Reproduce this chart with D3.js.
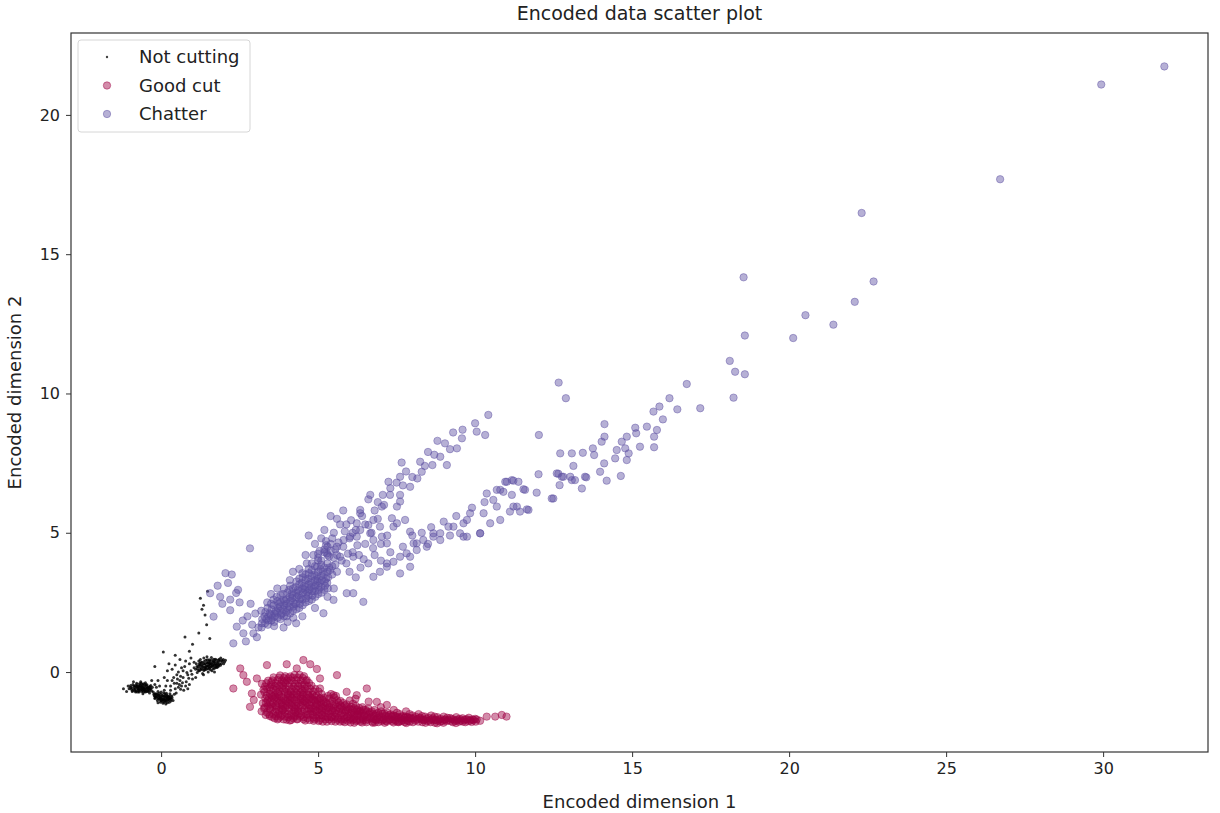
<!DOCTYPE html>
<html>
<head>
<meta charset="utf-8">
<script src="https://cdn.jsdelivr.net/npm/d3@7"></script>
<style>
  body { margin: 0; background: #fff; }
  text { font-family: "DejaVu Sans", sans-serif; fill: #222; }
</style>
</head>
<body>
<div id="chart"></div>
<script>
// data: [encoded dim 1, encoded dim 2]
var notCutting = [
  [-1.2,-0.6],[-1.05,-0.5],[-0.95,-0.62],[-0.9,-0.45],[-0.85,-0.55],[-0.8,-0.68],[-0.78,-0.4],[-0.72,-0.52],
  [-0.7,-0.6],[-0.66,-0.47],[-0.62,-0.7],[-0.6,-0.55],[-0.57,-0.42],[-0.55,-0.63],[-0.52,-0.5],[-0.5,-0.72],
  [-0.47,-0.58],[-0.45,-0.46],[-0.42,-0.66],[-0.4,-0.54],[-0.37,-0.75],[-0.35,-0.6],[-0.33,-0.48],[-0.3,-0.68],
  [-0.65,-0.35],[-0.75,-0.72],[-0.58,-0.78],[-0.88,-0.35],[-1.1,-0.7],[-0.5,-0.38],
  [-0.98,-0.55],[-0.92,-0.7],[-0.86,-0.62],[-0.82,-0.48],[-0.76,-0.58],[-0.74,-0.65],[-0.68,-0.55],[-0.64,-0.62],
  [-0.61,-0.45],[-0.59,-0.66],[-0.54,-0.56],[-0.53,-0.44],[-0.49,-0.64],[-0.46,-0.52],[-0.43,-0.6],[-0.41,-0.7],
  [-0.38,-0.56],[-0.36,-0.66],[-0.69,-0.42],[-0.63,-0.52],[-0.56,-0.72],[-0.79,-0.52],[-0.84,-0.68],[-0.71,-0.68],
  [-1.02,-0.6],[-0.97,-0.48],[-0.94,-0.56],[-0.91,-0.66],[-0.87,-0.5],[-0.83,-0.6],[-0.81,-0.72],[-0.77,-0.46],
  [-0.73,-0.6],[-0.69,-0.5],[-0.67,-0.64],[-0.64,-0.4],[-0.6,-0.62],[-0.58,-0.5],[-0.55,-0.58],[-0.51,-0.68],
  [-0.48,-0.46],[-0.44,-0.56],[-0.4,-0.62],[-0.36,-0.52],[-0.32,-0.6],[-0.28,-0.55],[-0.76,-0.52],[-0.7,-0.72],
  [-0.62,-0.56],[-0.53,-0.62],[-0.46,-0.7],
  [-0.25,-0.72],[-0.22,-0.85],[-0.2,-0.95],[-0.16,-0.78],[-0.14,-0.9],[-0.12,-1.02],[-0.1,-0.7],[-0.07,-0.84],
  [-0.05,-0.96],[-0.02,-1.08],[0.0,-0.8],[0.03,-0.92],[0.05,-1.0],[0.08,-0.74],[0.1,-0.88],[0.12,-1.05],
  [0.15,-0.95],[0.18,-0.82],[0.2,-1.1],[0.22,-0.9],[0.25,-1.0],[0.28,-0.78],[0.3,-0.94],[0.34,-0.86],
  [0.38,-1.02],[0.1,-0.65],[-0.1,-1.1],[0.15,-1.15],[0.42,-0.8],
  [-0.18,-0.88],[-0.13,-0.8],[-0.08,-0.92],[-0.04,-1.0],[-0.01,-0.88],[0.02,-1.02],[0.06,-0.86],[0.09,-0.96],
  [0.11,-1.0],[0.13,-0.84],[0.16,-1.05],[0.19,-0.92],[0.21,-1.0],[0.24,-0.88],[0.27,-0.96],[0.31,-1.04],
  [0.06,-1.12],[-0.06,-0.76],[0.17,-0.76],[0.26,-1.08],[-0.2,-0.78],[0.0,-0.96],
  [-0.23,-0.8],[-0.19,-0.92],[-0.15,-0.86],[-0.11,-0.96],[-0.09,-0.82],[-0.03,-0.94],[0.01,-1.04],[0.04,-0.84],
  [0.07,-0.98],[0.09,-1.08],[0.14,-0.9],[0.17,-1.0],[0.2,-0.86],[0.23,-0.96],[0.26,-0.92],[0.29,-0.86],
  [0.32,-0.98],[0.35,-0.92],[0.0,-0.72],[-0.05,-0.88],[0.12,-0.78],
  [0.45,-0.6],[0.5,-0.4],[0.55,-0.55],[0.6,-0.3],[0.65,-0.5],[0.7,-0.2],[0.72,-0.65],[0.8,-0.35],
  [0.85,-0.1],[0.9,-0.45],[0.95,0.05],[1.0,-0.25],[1.05,0.15],[0.3,-0.5],[0.2,-0.3],[0.4,-0.2],
  [0.55,0.0],[0.75,0.2],[0.35,0.1],[0.1,-0.2],[-0.1,-0.3],[0.6,0.45],[0.25,0.3],[0.9,0.3],
  [0.48,-0.75],[0.62,-0.62],[0.78,-0.5],[0.88,-0.22],[0.98,-0.08],[0.68,-0.38],[0.52,-0.25],[-0.2,-0.45],
  [0.5,-0.1],[0.62,-0.15],[0.7,0.05],[0.82,-0.02],[0.42,-0.4],[0.58,-0.45],[0.35,-0.3],[0.15,-0.5],
  [-0.05,-0.5],[0.78,0.4],[0.95,0.5],[1.05,0.35],[0.3,-0.65],[0.85,-0.6],[1.1,-0.2],[0.65,0.15],
  [-0.3,-0.3],[-0.15,-0.55],[0.2,0.05],[0.45,0.25],
  [1.1,0.1],[1.12,0.3],[1.15,-0.02],[1.18,0.2],[1.2,0.4],[1.22,0.05],[1.25,0.25],[1.28,0.12],
  [1.3,0.35],[1.32,-0.05],[1.35,0.18],[1.38,0.28],[1.4,0.08],[1.42,0.42],[1.45,0.22],[1.48,0.32],
  [1.5,0.12],[1.52,0.26],[1.55,0.4],[1.58,0.18],[1.6,0.3],[1.62,0.05],[1.65,0.22],[1.68,0.36],
  [1.7,0.14],[1.72,0.46],[1.75,0.26],[1.78,0.34],[1.8,0.18],[1.83,0.42],[1.86,0.3],[1.9,0.5],
  [1.25,0.45],[1.36,0.5],[1.46,0.55],[1.6,0.52],[1.35,-0.1],[1.5,0.0],[1.7,0.0],[1.95,0.38],
  [1.16,0.12],[1.21,0.26],[1.24,0.16],[1.27,0.34],[1.31,0.2],[1.33,0.1],[1.37,0.38],[1.39,0.16],
  [1.41,0.3],[1.44,0.1],[1.47,0.44],[1.49,0.22],[1.51,0.36],[1.54,0.14],[1.56,0.3],[1.59,0.42],
  [1.61,0.2],[1.63,0.34],[1.66,0.12],[1.67,0.46],[1.69,0.28],[1.71,0.38],[1.74,0.18],[1.76,0.44],
  [1.79,0.24],[1.81,0.36],[1.84,0.22],[1.88,0.4],[1.92,0.3],[1.98,0.45],[2.02,0.36],[1.57,0.08],
  [1.14,0.2],[1.19,0.06],[1.23,0.32],[1.26,0.08],[1.29,0.24],[1.34,0.3],[1.36,0.06],[1.43,0.2],
  [1.46,0.34],[1.52,0.18],[1.53,0.44],[1.57,0.24],[1.64,0.26],[1.66,0.4],[1.73,0.3],[1.77,0.16],
  [1.82,0.28],[1.85,0.46],[1.89,0.24],[1.94,0.42],[1.99,0.3],[2.05,0.42],[1.42,0.14],[1.55,0.32],[1.7,0.22],
  [0.07,0.72],[0.76,1.26],[1.0,1.0],[0.9,0.75],[1.2,1.4],[1.45,1.7],[1.55,1.2],[1.3,2.25],
  [1.4,2.05],[1.35,2.4],[1.25,2.65],[1.48,2.9],[0.45,0.6],[-0.2,0.2]
];

var goodCut = [
  [2.3,-0.59],[2.52,0.13],[2.83,-1.25],[2.89,-0.77],[2.62,-0.11],[2.73,-0.35],[3.05,-0.23],[2.95,-1.0],
  [3.37,0.25],[4.0,0.28],[4.32,0.13],[4.53,0.43],[4.75,0.28],[4.96,0.11],[5.6,-0.11],[5.06,-0.23],
  [4.64,-0.29],[6.55,-0.59],[5.91,-0.71],[6.23,-0.83],[6.87,-1.07],[7.19,-1.18],[5.06,-0.59],[5.49,-0.83],
  [3.21,-0.42],[3.18,-0.81],[3.24,-1.12],[3.2,-1.41],[3.26,-0.63],
  [3.41,-0.31],[3.38,-0.6],[3.43,-0.92],[3.4,-1.21],[3.44,-1.52],[3.39,-1.02],
  [3.58,-0.19],[3.62,-0.5],[3.6,-0.83],[3.57,-1.1],[3.63,-1.42],[3.61,-1.66],[3.59,-0.96],
  [3.79,-0.12],[3.82,-0.41],[3.78,-0.69],[3.81,-1.02],[3.83,-1.31],[3.8,-1.6],[3.77,-0.86],[3.84,-1.17],
  [4.01,-0.3],[3.98,-0.62],[4.03,-0.91],[4.0,-1.19],[4.02,-1.51],[3.99,-1.71],[4.04,-0.76],[3.97,-1.04],
  [4.19,-0.2],[4.22,-0.52],[4.2,-0.81],[4.18,-1.12],[4.23,-1.39],[4.21,-1.66],[4.17,-0.94],[4.24,-1.26],
  [4.41,-0.1],[4.38,-0.41],[4.43,-0.72],[4.4,-1.01],[4.37,-1.31],[4.42,-1.6],[4.44,-0.86],[4.39,-1.49],
  [4.61,-0.31],[4.58,-0.6],[4.62,-0.92],[4.6,-1.2],[4.63,-1.52],[4.59,-1.74],[4.57,-1.06],
  [4.79,-0.49],[4.82,-0.81],[4.8,-1.1],[4.78,-1.41],[4.83,-1.64],[4.81,-0.96],[4.77,-1.3],
  [5.01,-0.7],[4.98,-1.01],[5.03,-1.3],[5.0,-1.56],[5.02,-1.76],[4.97,-1.16],
  [5.19,-0.92],[5.22,-1.21],[5.2,-1.46],[5.23,-1.7],[5.18,-1.06],
  [5.41,-0.79],[5.38,-1.12],[5.42,-1.36],[5.4,-1.61],[5.43,-1.76],
  [5.6,-1.01],[5.62,-1.26],[5.58,-1.5],[5.61,-1.71],[5.57,-0.86],
  [5.8,-1.11],[5.79,-1.36],[5.82,-1.56],[5.78,-1.76],
  [6.01,-1.02],[5.99,-1.31],[6.02,-1.51],[6.0,-1.7],[6.03,-1.81],
  [6.2,-1.21],[6.22,-1.41],[6.18,-1.6],[6.21,-1.76],[6.19,-0.96],
  [6.41,-1.26],[6.39,-1.46],[6.42,-1.66],[6.4,-1.81],
  [6.6,-1.31],[6.62,-1.51],[6.58,-1.7],[6.61,-1.06],
  [6.8,-1.36],[6.79,-1.56],[6.82,-1.71],[6.81,-1.81],
  [7.01,-1.41],[6.99,-1.61],[7.02,-1.76],[7.0,-1.26],
  [7.2,-1.46],[7.22,-1.6],[7.19,-1.78],
  [7.41,-1.36],[7.39,-1.56],[7.42,-1.7],[7.4,-1.81],
  [7.6,-1.51],[7.62,-1.66],[7.58,-1.78],
  [7.8,-1.41],[7.79,-1.6],[7.82,-1.72],[7.81,-1.83],
  [8.01,-1.56],[7.99,-1.68],[8.02,-1.8],
  [8.2,-1.51],[8.22,-1.66],[8.19,-1.78],
  [8.41,-1.6],[8.39,-1.72],[8.42,-1.82],
  [8.6,-1.56],[8.62,-1.7],[8.58,-1.8],
  [8.8,-1.62],[8.81,-1.75],[8.79,-1.84],
  [9.0,-1.6],[9.02,-1.72],[8.99,-1.82],
  [9.2,-1.65],[9.21,-1.76],
  [9.4,-1.62],[9.41,-1.74],[9.39,-1.83],
  [9.6,-1.66],[9.61,-1.78],
  [9.8,-1.64],[9.79,-1.76],
  [10.0,-1.68],[10.02,-1.78],[10.16,-1.75],
  [10.37,-1.6],[10.64,-1.6],[10.85,-1.54],[11.0,-1.6],
  // second pass over the dense body
  [3.31,-0.52],[3.29,-0.71],[3.32,-0.94],[3.3,-1.27],[3.33,-1.54],[3.28,-1.31],
  [3.51,-0.36],[3.49,-0.66],[3.52,-0.84],[3.5,-1.16],[3.48,-1.34],[3.53,-1.61],[3.5,-0.46],
  [3.71,-0.29],[3.69,-0.56],[3.72,-0.74],[3.7,-1.06],[3.68,-1.24],[3.73,-1.51],[3.71,-1.7],[3.69,-0.94],
  [3.91,-0.21],[3.89,-0.49],[3.92,-0.66],[3.9,-0.94],[3.88,-1.21],[3.93,-1.44],[3.9,-1.7],[3.91,-0.36],[3.89,-1.34],
  [4.11,-0.16],[4.09,-0.41],[4.12,-0.69],[4.1,-1.01],[4.08,-1.29],[4.13,-1.56],[4.1,-1.74],[4.11,-0.86],[4.09,-1.14],
  [4.31,-0.29],[4.29,-0.61],[4.32,-0.89],[4.3,-1.21],[4.28,-1.44],[4.33,-1.7],[4.3,-0.76],[4.31,-1.06],[4.29,-1.56],
  [4.51,-0.21],[4.49,-0.49],[4.52,-0.81],[4.5,-1.09],[4.48,-1.41],[4.53,-1.69],[4.5,-0.66],[4.51,-0.96],[4.49,-1.26],
  [4.71,-0.39],[4.69,-0.71],[4.72,-0.99],[4.7,-1.31],[4.68,-1.54],[4.73,-1.72],[4.7,-0.84],[4.71,-1.16],
  [4.91,-0.61],[4.89,-0.89],[4.92,-1.21],[4.9,-1.44],[4.88,-1.69],[4.91,-1.04],[4.9,-1.36],
  [5.11,-0.79],[5.09,-1.11],[5.12,-1.39],[5.1,-1.66],[5.08,-0.94],[5.11,-1.26],[5.1,-1.54],
  [5.31,-0.86],[5.29,-1.14],[5.32,-1.41],[5.3,-1.61],[5.28,-1.78],[5.31,-1.29],
  [5.51,-0.91],[5.49,-1.19],[5.52,-1.46],[5.5,-1.68],[5.49,-1.31],
  [5.71,-1.04],[5.69,-1.31],[5.72,-1.54],[5.7,-1.78],[5.71,-1.19],
  [5.91,-1.16],[5.89,-1.39],[5.92,-1.62],[5.9,-1.26],
  [6.11,-1.14],[6.09,-1.36],[6.12,-1.56],[6.1,-1.72],
  [6.31,-1.29],[6.29,-1.51],[6.32,-1.71],[6.3,-1.41],
  [6.51,-1.36],[6.49,-1.56],[6.52,-1.74],
  [6.71,-1.41],[6.69,-1.61],[6.72,-1.78],
  [6.91,-1.46],[6.89,-1.64],[6.92,-1.8],
  [7.11,-1.49],[7.09,-1.68],[7.12,-1.82],
  [7.31,-1.52],[7.29,-1.7],
  [7.51,-1.46],[7.49,-1.62],[7.52,-1.78],
  [7.71,-1.58],[7.69,-1.72],
  [7.91,-1.51],[7.89,-1.66],[7.92,-1.78],
  [8.11,-1.6],[8.09,-1.74],
  [8.31,-1.58],[8.29,-1.7],[8.32,-1.8],
  [8.51,-1.64],[8.49,-1.76],
  [8.71,-1.6],[8.69,-1.72],[8.72,-1.82],
  [8.91,-1.68],[8.89,-1.78],
  [9.11,-1.64],[9.09,-1.76],
  [9.31,-1.7],[9.29,-1.8],
  [9.51,-1.68],[9.49,-1.78],
  [9.71,-1.7],[9.69,-1.8],
  [9.91,-1.7],[9.89,-1.79],
  // third pass
  [3.35,-0.4],[3.36,-0.85],[3.34,-1.1],[3.37,-1.45],[3.45,-0.55],[3.46,-0.78],[3.47,-1.08],[3.45,-1.3],[3.46,-1.58],
  [3.55,-0.3],[3.56,-0.6],[3.54,-0.9],[3.55,-1.25],[3.57,-1.5],
  [3.65,-0.4],[3.66,-0.65],[3.64,-0.9],[3.65,-1.2],[3.67,-1.35],[3.66,-1.58],
  [3.75,-0.2],[3.76,-0.48],[3.74,-0.8],[3.75,-1.12],[3.76,-1.4],[3.74,-1.66],
  [3.85,-0.3],[3.86,-0.58],[3.84,-0.9],[3.85,-1.1],[3.86,-1.38],[3.84,-1.55],
  [3.95,-0.15],[3.96,-0.4],[3.94,-0.72],[3.95,-1.0],[3.96,-1.28],[3.94,-1.6],
  [4.05,-0.22],[4.06,-0.5],[4.04,-0.82],[4.05,-1.1],[4.06,-1.4],[4.04,-1.62],
  [4.15,-0.3],[4.16,-0.6],[4.14,-0.9],[4.15,-1.2],[4.16,-1.48],[4.14,-1.72],
  [4.25,-0.1],[4.26,-0.42],[4.24,-0.7],[4.25,-1.0],[4.26,-1.32],[4.24,-1.6],
  [4.35,-0.2],[4.36,-0.5],[4.34,-0.8],[4.35,-1.12],[4.36,-1.4],[4.34,-1.68],
  [4.45,-0.3],[4.46,-0.6],[4.44,-0.95],[4.45,-1.2],[4.46,-1.55],
  [4.55,-0.15],[4.56,-0.45],[4.54,-0.75],[4.55,-1.05],[4.56,-1.35],[4.54,-1.62],
  [4.65,-0.5],[4.66,-0.8],[4.64,-1.1],[4.65,-1.4],[4.66,-1.66],
  [4.75,-0.6],[4.76,-0.9],[4.74,-1.2],[4.75,-1.5],
  [4.85,-0.7],[4.86,-1.0],[4.84,-1.3],[4.85,-1.55],[4.86,-1.75],
  [4.95,-0.85],[4.96,-1.15],[4.94,-1.4],[4.95,-1.65],
  [5.05,-0.95],[5.06,-1.2],[5.04,-1.45],[5.05,-1.72],
  [5.15,-1.0],[5.16,-1.3],[5.14,-1.55],[5.15,-1.78],
  [5.25,-1.1],[5.26,-1.35],[5.24,-1.6],
  [5.35,-0.95],[5.36,-1.25],[5.34,-1.5],[5.35,-1.7],
  [5.45,-1.05],[5.46,-1.4],[5.44,-1.62],
  [5.55,-1.15],[5.56,-1.38],[5.54,-1.6],[5.55,-1.78],
  [5.65,-1.1],[5.66,-1.42],[5.64,-1.65],
  [5.75,-1.25],[5.76,-1.48],[5.74,-1.7],
  [5.85,-1.2],[5.86,-1.45],[5.84,-1.68],[5.85,-1.8],
  [5.95,-1.35],[5.96,-1.58],[5.94,-1.75],
  [6.05,-1.25],[6.06,-1.45],[6.04,-1.65],
  [6.15,-1.3],[6.16,-1.5],[6.14,-1.68],[6.15,-1.82],
  [6.25,-1.35],[6.26,-1.55],[6.24,-1.72],
  [6.35,-1.4],[6.36,-1.6],[6.34,-1.78],
  [6.45,-1.35],[6.46,-1.55],[6.44,-1.72],
  [6.55,-1.42],[6.56,-1.62],[6.54,-1.8],
  [6.65,-1.45],[6.66,-1.66],
  [6.75,-1.5],[6.76,-1.68],[6.74,-1.82],
  [6.85,-1.5],[6.86,-1.72],
  [6.95,-1.55],[6.96,-1.7],
  [7.05,-1.5],[7.06,-1.72],
  [7.15,-1.58],[7.16,-1.75],
  [7.25,-1.55],[7.26,-1.72],
  [7.35,-1.6],[7.36,-1.76],
  [7.45,-1.58],[7.46,-1.74],
  [7.55,-1.62],[7.56,-1.8],
  [7.65,-1.6],[7.66,-1.76],
  [7.75,-1.64],[7.76,-1.8],
  [7.85,-1.62],[7.86,-1.76],
  [7.95,-1.64],[8.05,-1.66],[8.15,-1.7],[8.25,-1.64],[8.35,-1.72],[8.45,-1.68],[8.55,-1.74],[8.65,-1.66],
  [8.75,-1.72],[8.85,-1.7],[8.95,-1.76],[9.05,-1.7],[9.15,-1.72],[9.25,-1.68],[9.35,-1.76],[9.45,-1.7],
  [9.55,-1.74],[9.65,-1.72],[9.75,-1.7],[9.85,-1.74],[9.95,-1.72],[10.05,-1.7]
];

var chatter = [
  [1.56,2.83],[1.88,2.7],[1.67,1.99],[2.2,2.22],[2.41,1.63],[2.3,1.03],[2.62,1.39],[2.94,1.39],
  [2.83,4.44],[2.05,3.55],[2.25,3.5],[2.5,2.5],[2.75,2.0],[2.6,1.85],[2.9,1.7],[3.0,2.1],
  [2.85,2.45],[3.1,1.6],[2.45,2.95],[2.2,2.6],[1.95,2.45],[2.7,1.1],[3.05,1.25],[1.8,3.1],
  [2.13,3.2],[2.39,2.84],
  [3.2,1.6],[3.22,1.9],[3.19,2.2],[3.21,1.75],
  [3.4,1.7],[3.41,2.0],[3.39,2.3],[3.42,1.85],[3.38,2.5],
  [3.6,1.8],[3.61,2.1],[3.59,2.4],[3.62,2.0],[3.58,2.6],[3.6,1.65],
  [3.8,1.9],[3.79,2.2],[3.81,2.5],[3.8,2.75],[3.82,2.05],[3.78,2.35],
  [4.0,2.0],[4.01,2.3],[3.99,2.6],[4.02,2.85],[3.98,2.15],[4.0,2.45],[4.03,1.8],
  [4.2,2.2],[4.21,2.5],[4.19,2.75],[4.2,3.0],[4.22,2.35],[4.18,2.65],[4.21,1.95],
  [4.4,2.3],[4.41,2.6],[4.39,2.9],[4.4,3.15],[4.42,2.45],[4.38,2.75],[4.4,3.35],
  [4.6,2.5],[4.61,2.8],[4.59,3.05],[4.6,3.3],[4.62,2.65],[4.58,2.95],[4.6,3.5],
  [4.8,2.6],[4.81,2.9],[4.79,3.2],[4.8,3.45],[4.82,2.75],[4.78,3.05],[4.8,3.65],
  [5.0,2.8],[5.01,3.1],[4.99,3.35],[5.0,3.6],[5.02,2.95],[4.98,3.25],
  [5.2,2.95],[5.21,3.25],[5.19,3.5],[5.2,3.75],[5.22,3.1],
  [3.7,3.0],[4.1,3.3],[3.5,2.8],[4.9,2.3],[5.3,2.7],[4.5,2.0],[5.5,3.0],[3.9,1.6],[4.3,1.75],
  // second pass over the dense core
  [3.31,1.75],[3.29,2.0],[3.32,2.15],
  [3.51,1.85],[3.49,2.05],[3.52,2.25],[3.5,2.45],
  [3.71,1.95],[3.69,2.15],[3.72,2.3],[3.7,2.55],[3.68,2.7],
  [3.91,2.0],[3.89,2.25],[3.92,2.4],[3.9,2.6],[3.88,2.8],[3.91,3.0],
  [4.11,2.1],[4.09,2.35],[4.12,2.55],[4.1,2.7],[4.08,2.95],[4.11,3.1],
  [4.31,2.25],[4.29,2.45],[4.32,2.7],[4.3,2.85],[4.28,3.05],[4.31,3.25],
  [4.51,2.4],[4.49,2.6],[4.52,2.85],[4.5,3.0],[4.48,3.2],[4.51,3.4],
  [4.71,2.55],[4.69,2.75],[4.72,2.95],[4.7,3.15],[4.68,3.35],[4.71,3.55],
  [4.91,2.7],[4.89,2.9],[4.92,3.1],[4.9,3.3],[4.88,3.5],
  [5.11,2.85],[5.09,3.05],[5.12,3.3],[5.1,3.45],[5.08,3.7],
  [5.31,3.0],[5.29,3.2],[5.32,3.4],[5.3,3.6],
  // third pass
  [3.35,1.9],[3.45,2.1],[3.55,1.95],[3.65,2.2],[3.75,2.45],[3.85,2.1],[3.95,2.55],[4.05,2.25],
  [4.15,2.8],[4.25,2.45],[4.35,2.95],[4.45,2.65],[4.55,3.1],[4.65,2.85],[4.75,3.25],[4.85,3.0],
  [4.95,3.45],[5.05,3.2],[5.15,3.6],[5.25,3.35],[5.35,3.75],[5.45,3.5],[5.55,3.85],
  [4.9,3.8],[5.0,4.1],[5.1,4.0],[5.2,4.4],[5.3,4.2],[5.4,4.35],[5.1,3.85],[5.3,4.5],
  [5.5,4.1],[5.6,4.5],[5.45,4.8],[5.25,4.55],[5.0,4.25],[4.7,3.7],[4.5,3.55],
  [5.0,4.0],[5.2,4.3],[5.4,4.6],[5.1,4.8],[5.6,4.2],[5.8,4.5],[5.5,5.0],[5.7,5.3],
  [5.3,3.9],[5.9,3.9],[6.1,4.3],[6.0,4.8],[6.2,5.1],[6.4,5.6],[6.3,4.2],[6.5,4.6],
  [6.6,3.9],[6.8,4.2],[4.8,3.9],[4.6,4.2],[4.4,3.7],[4.2,3.6],[5.6,3.6],[6.0,3.6],
  [6.2,3.4],[6.7,5.0],[6.9,5.5],[7.0,4.6],[7.2,4.9],[5.2,5.1],[4.9,4.6],[4.7,4.9],
  [5.4,5.6],[5.8,5.8],[6.6,6.2],
  [5.45,3.8],[5.75,4.0],[5.55,4.4],[5.95,4.25],[5.35,4.15],[5.65,4.65],[6.25,4.55],[6.45,4.05],
  [5.85,5.05],[6.05,5.45],[5.25,4.7],[6.35,3.75],[6.75,4.45],[5.05,4.35],[4.85,4.2],[5.6,5.5],
  [6.44,2.52],[5.91,2.83],[6.12,2.83],[5.49,2.59],[5.17,2.11],
  [10.42,9.23],[10.0,8.93],[10.05,8.63],[10.32,8.51],[9.58,8.39],[9.04,8.21],[9.42,8.03],[8.89,7.73],
  [9.1,7.43],[8.64,7.43],[8.25,7.55],[7.66,7.52],[8.3,7.19],[8.16,6.95],[7.93,6.65],[7.61,7.01],
  [7.24,6.83],[7.06,6.36],[6.66,6.36],[7.29,6.36],[7.61,6.36],[7.03,5.94],[7.51,5.94],[6.34,5.7],
  [6.76,5.46],[7.35,5.52],[7.77,5.46],[6.34,5.1],[6.02,4.86],[6.66,4.98],[7.03,4.86],[7.93,5.04],
  [7.4,5.22],[6.34,5.82],[7.61,6.12],[6.23,5.34],[6.6,5.28],[6.97,5.22],[7.51,5.34],[5.81,4.74],
  [6.23,4.86],[6.76,4.74],[7.19,4.62],[5.28,4.26],[5.7,4.14],[6.12,4.14],[4.64,3.9],[4.96,3.78],
  [5.38,3.66],[8.8,8.3],[9.3,8.6],[8.5,7.9],
  [6.5,5.3],[6.8,5.8],[7.1,6.0],[7.3,6.6],[7.5,6.8],[7.8,7.2],[8.0,7.0],[8.4,7.4],
  [8.7,7.8],[9.2,8.0],[9.6,8.7],[6.9,6.1],[7.7,6.7],[6.1,5.0],[5.9,5.3],
  [7.93,4.14],[7.19,3.9],[7.61,3.54],[7.93,3.78],[8.46,4.5],[8.89,4.74],[8.67,4.98],[8.14,4.62],
  [9.31,5.22],[9.63,4.86],[9.74,5.46],[10.16,4.98],[10.27,5.7],[10.69,5.94],[10.69,6.54],
  [7.0,4.0],[7.3,4.3],[7.7,4.5],[8.0,4.9],[8.3,5.0],[8.6,5.2],[9.0,5.4],[9.4,5.6],
  [9.9,5.9],[10.3,6.1],[8.5,4.6],[9.2,4.9],
  [10.37,6.41],[10.58,6.18],[10.8,6.54],[11.17,6.36],[10.96,6.83],[11.17,6.89],[11.38,6.83],[11.59,6.54],
  [12.02,7.1],[12.49,6.23],[12.65,7.12],[12.76,7.01],[13.03,7.01],[13.18,6.89],[13.5,7.01],[13.4,6.59],
  [11.43,5.76],[11.7,5.82],[11.22,5.94],[10.8,5.46],[10.48,5.34],[10.16,4.98],[9.84,5.7],[9.63,5.34],
  [9.52,4.98],[9.74,4.86],[9.15,5.22],[8.89,4.98],[8.67,4.86],[8.35,4.74],[8.04,4.62],[8.14,4.38],
  [7.82,4.26],[7.61,4.14],[7.4,3.96],[7.19,3.78],[6.97,3.6],[6.76,3.42],
  [12.03,8.51],[12.66,10.39],[12.89,9.83],[12.71,7.85],[13.08,7.85],[13.43,7.87],[13.75,8.03],[13.79,7.79],
  [13.13,7.4],[14.11,7.49],[13.98,7.19],[14.19,6.87],[14.64,7.04],[13.54,6.99],[12.6,7.13],[12.81,7.01],
  [13.08,6.89],[12.69,6.71],[12.44,6.23],[11.96,6.44],[11.54,6.56],[11.01,6.83],[11.22,6.87],[10.9,6.47],
  [11.33,5.94],[11.65,5.84],[11.11,5.76],
  [14.12,8.9],[15.1,8.77],[15.47,8.81],[15.79,8.69],[15.13,8.57],[14.83,8.45],[15.7,8.45],[14.12,8.45],
  [14.03,8.27],[14.67,8.27],[14.78,8.03],[14.51,7.97],[15.25,8.09],[15.7,8.07],[14.89,7.85],[14.46,7.67],
  [14.83,7.61],[15.68,9.35],[15.87,9.53],[15.98,9.07],[16.19,9.83],[16.44,9.43],[16.74,10.34],[17.17,9.47],
  [18.55,14.17],[22.31,16.48],[22.69,14.02],[22.09,13.29],[20.52,12.81],[21.41,12.47],[20.13,11.99],[18.59,12.08],
  [18.11,11.17],[18.28,10.78],[18.59,10.69],[18.23,9.85],[31.95,21.74],[29.94,21.09],[26.72,17.69]
];

var xTicks = [0, 5, 10, 15, 20, 25, 30];
var yTicks = [0, 5, 10, 15, 20];
var seriesNames = ["Not cutting", "Good cut", "Chatter"];
var seriesColors = ["#000000", "#9e0142", "#5e4fa2"];

var W = 1220, H = 813;
var plot = {left: 71, right: 1208, top: 33, bottom: 752};

var svg = d3.select("#chart").append("svg")
  .attr("width", W)
  .attr("height", H);

var x = d3.scaleLinear().domain([-2.87, 33.34]).range([plot.left, plot.right]);
var y = d3.scaleLinear().domain([-2.87, 22.94]).range([plot.bottom, plot.top]);

// points
var groups = [notCutting, goodCut, chatter];
groups.forEach(function(data, i) {
  var g = svg.append("g").attr("class", "series-" + i);
  g.selectAll("circle")
    .data(data)
    .enter()
    .append("circle")
      .attr("cx", function(d) { return x(d[0]); })
      .attr("cy", function(d) { return y(d[1]); })
      .attr("r", i == 0 ? 1.5 : 3.7)
      .style("fill", seriesColors[i])
      .style("fill-opacity", i == 0 ? 0.8 : 0.45)
      .style("stroke", i == 0 ? "none" : seriesColors[i])
      .style("stroke-opacity", 0.45)
      .style("stroke-width", 1);
});

// axes
var xAxis = svg.append("g")
  .attr("transform", "translate(0," + plot.bottom + ")")
  .call(d3.axisBottom(x).tickValues(xTicks).tickSize(5).tickPadding(6).tickFormat(d3.format("d")));
var yAxis = svg.append("g")
  .attr("transform", "translate(" + plot.left + ",0)")
  .call(d3.axisLeft(y).tickValues(yTicks).tickSize(5).tickPadding(6).tickFormat(d3.format("d")));

[xAxis, yAxis].forEach(function(a) {
  a.select(".domain").remove();
  a.selectAll("line").attr("stroke", "#333");
  a.selectAll("text").style("font-size", "16px").style("fill", "#222");
});

// frame
svg.append("rect")
  .attr("x", plot.left)
  .attr("y", plot.top)
  .attr("width", plot.right - plot.left)
  .attr("height", plot.bottom - plot.top)
  .style("fill", "none")
  .style("stroke", "#333")
  .style("stroke-width", 1.2);

// title and labels
svg.append("text")
  .attr("x", (plot.left + plot.right) / 2)
  .attr("y", 20)
  .attr("text-anchor", "middle")
  .style("font-size", "19px")
  .text("Encoded data scatter plot");

svg.append("text")
  .attr("x", (plot.left + plot.right) / 2)
  .attr("y", 808)
  .attr("text-anchor", "middle")
  .style("font-size", "18px")
  .text("Encoded dimension 1");

svg.append("text")
  .attr("transform", "translate(21," + ((plot.top + plot.bottom) / 2) + ") rotate(-90)")
  .attr("text-anchor", "middle")
  .style("font-size", "18px")
  .text("Encoded dimension 2");

// legend
var legend = svg.append("g").attr("transform", "translate(78,40)");
legend.append("rect")
  .attr("width", 172)
  .attr("height", 92)
  .attr("rx", 3)
  .style("fill", "#fff")
  .style("fill-opacity", 0.8)
  .style("stroke", "#d6d6d6");

seriesNames.forEach(function(name, i) {
  var row = legend.append("g").attr("transform", "translate(0," + (17 + i * 28.5) + ")");
  row.append("circle")
    .attr("cx", 29)
    .attr("cy", 0)
    .attr("r", i == 0 ? 1.2 : 3.7)
    .style("fill", seriesColors[i])
    .style("fill-opacity", i == 0 ? 0.75 : 0.45)
    .style("stroke", i == 0 ? "none" : seriesColors[i])
    .style("stroke-opacity", 0.45);
  row.append("text")
    .attr("x", 61)
    .attr("y", 6)
    .style("font-size", "18px")
    .text(name);
});
</script>
</body>
</html>
